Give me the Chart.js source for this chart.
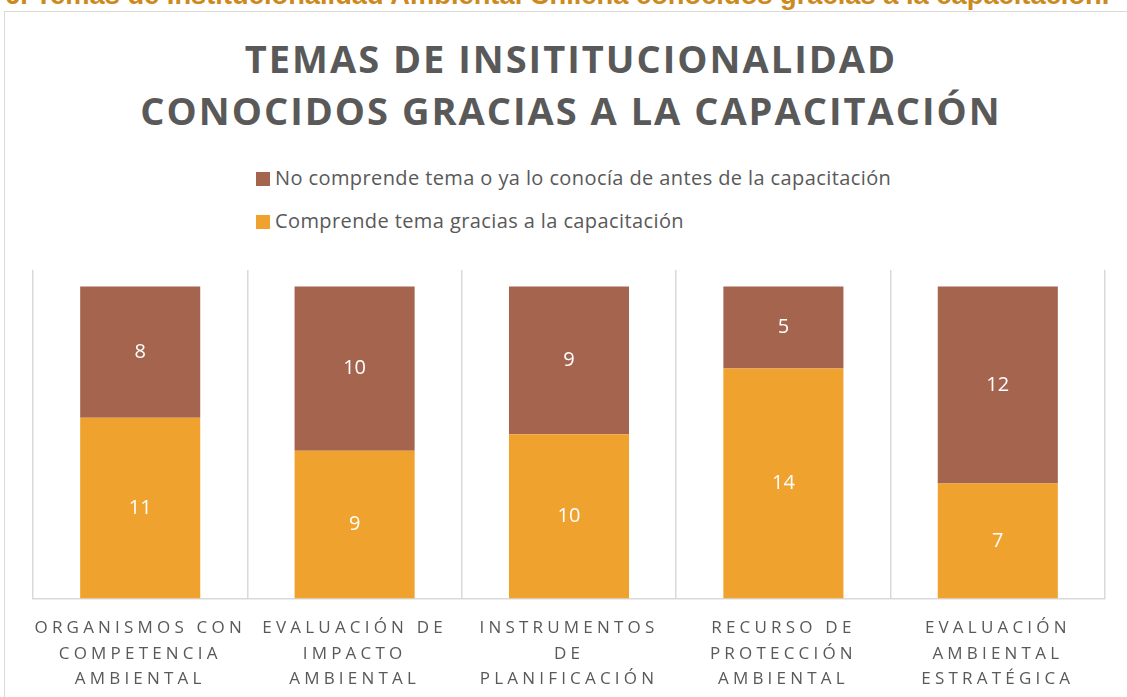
<!DOCTYPE html>
<html>
<head>
<meta charset="utf-8">
<script src="https://cdn.jsdelivr.net/npm/chart.js@4/dist/chart.umd.min.js"></script>
<style>
  body { margin: 0; background: #fff; overflow: hidden; }
  #wrap { position: relative; width: 1127px; height: 697px; overflow: hidden; }
  #caption { position: absolute; left: 5px; top: -18px; font: bold 27.3px "Liberation Sans", Arial, sans-serif; line-height: 26px; color: #CC8A1E; white-space: nowrap; }
  #frame { position: absolute; left: 4px; top: 11px; width: 1200px; height: 800px; border: 1.5px solid #D9D9D9; }
  #title { position: absolute; left: 0; top: 32px; width: 1142px; text-align: center; font: bold 38px "Open Sans", sans-serif; line-height: 52px; letter-spacing: 2px; color: #595959; }
  #legend { position: absolute; left: 256px; top: 164px; font: 20px "Open Sans", sans-serif; letter-spacing: 0.4px; color: #595959; }
  #legend div { height: 43px; line-height: 28px; white-space: nowrap; }
  #legend span { display: inline-block; width: 14px; height: 14px; margin-right: 5px; vertical-align: -1px; }
  canvas { position: absolute; left: 0; top: 0; }
</style>
</head>
<body>
<div id="wrap">
  <div id="caption">6. Temas de Institucionalidad Ambiental Chilena conocidos gracias a la capacitación.</div>
  <div id="frame"></div>
  <div id="title">TEMAS DE INSITITUCIONALIDAD<br>CONOCIDOS GRACIAS A LA CAPACITACIÓN</div>
  <div id="legend"></div>
  <canvas id="myChart" width="1127" height="709"></canvas>
</div>
<script>
const categories = [
  ["ORGANISMOS CON", "COMPETENCIA", "AMBIENTAL"],
  ["EVALUACIÓN DE", "IMPACTO", "AMBIENTAL"],
  ["INSTRUMENTOS", "DE", "PLANIFICACIÓN"],
  ["RECURSO DE", "PROTECCIÓN", "AMBIENTAL"],
  ["EVALUACIÓN", "AMBIENTAL", "ESTRATÉGICA"]
];
const comprende = [11, 9, 10, 14, 7];
const noComprende = [8, 10, 9, 5, 12];
const seriesNames = [
  "Comprende tema gracias a la capacitación",
  "No comprende tema o ya lo conocía de antes de la capacitación"
];
const seriesColors = ["#F0A22E", "#A5644E"];

// values written inside each segment + spaced tick labels
const segmentLabels = {
  id: "segmentLabels",
  afterDatasetsDraw(chart) {
    const ctx = chart.ctx;
    ctx.save();
    ctx.font = '20px "Open Sans", sans-serif';
    ctx.fillStyle = "#ffffff";
    ctx.textAlign = "center";
    ctx.textBaseline = "middle";
    chart.data.datasets.forEach(function (ds, i) {
      chart.getDatasetMeta(i).data.forEach(function (bar, j) {
        ctx.fillText(ds.data[j], bar.x, (bar.y + bar.base) / 2);
      });
    });
    ctx.restore();
    ctx.letterSpacing = "4.2px";
  },
  afterDraw(chart) {
    chart.ctx.letterSpacing = "0px";
  }
};

new Chart("myChart", {
  type: "bar",
  data: {
    labels: categories,
    datasets: [
      { label: seriesNames[0], data: comprende, backgroundColor: seriesColors[0] },
      { label: seriesNames[1], data: noComprende, backgroundColor: seriesColors[1] }
    ]
  },
  options: {
    responsive: false,
    animation: false,
    layout: { padding: { top: 270, left: 33, right: 22, bottom: 0 } },
    datasets: { bar: { categoryPercentage: 1, barPercentage: 0.56 } },
    plugins: {
      legend: { display: false },
      title: { display: false },
      tooltip: { enabled: false }
    },
    scales: {
      x: {
        stacked: true,
        grid: { color: "#D9D9D9", lineWidth: 1.5, drawTicks: false },
        border: { color: "#D9D9D9", width: 1.5 },
        ticks: {
          z: 1,
          autoSkip: false,
          maxRotation: 0,
          padding: 17,
          color: "#595959",
          font: { family: "Open Sans", size: 17, lineHeight: 1.5 }
        }
      },
      y: { stacked: true, display: false, min: 0, max: 20 }
    }
  },
  plugins: [segmentLabels]
});

// legend (top series first, as in the original)
const legend = document.getElementById("legend");
for (let i = seriesNames.length - 1; i >= 0; i--) {
  const row = document.createElement("div");
  row.innerHTML = '<span style="background:' + seriesColors[i] + '"></span>' + seriesNames[i];
  legend.appendChild(row);
}
</script>
</body>
</html>
